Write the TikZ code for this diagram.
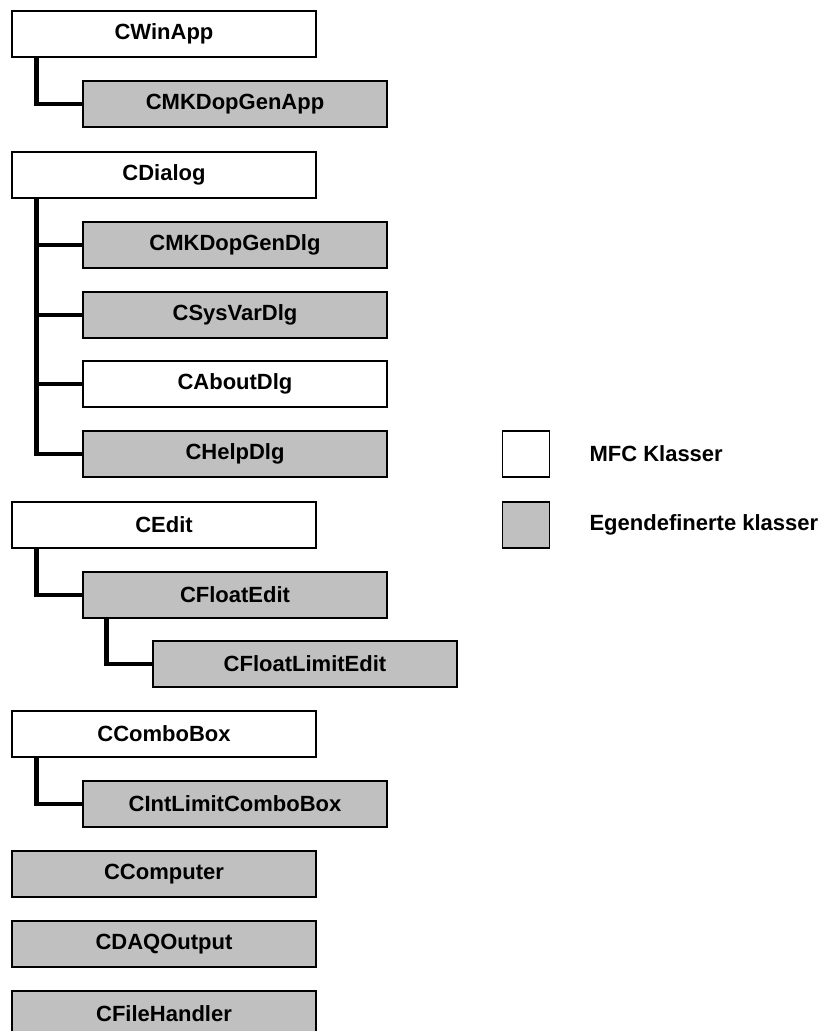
\documentclass[tikz,border=0pt]{standalone}
\usepackage{fontspec}
\setmainfont{Liberation Sans}
\usepackage{tikz}
\usetikzlibrary{positioning}

\definecolor{mfcgray}{RGB}{192,192,192}

\begin{document}
\begin{tikzpicture}[
  x=1pt, y=-1pt,
  cls/.style={draw, line width=1.4pt, minimum width=304pt, minimum height=46pt,
              inner sep=0pt, font=\fontsize{22}{26}\selectfont\bfseries},
  mfc/.style={cls, fill=white},
  own/.style={cls, fill=mfcgray},
  key/.style={draw, line width=1.4pt, minimum width=47pt, minimum height=46pt, inner sep=0pt},
  keytxt/.style={anchor=west, font=\fontsize{22}{26}\selectfont\bfseries},
  link/.style={line width=4.5pt}
]
  \useasboundingbox (0,0) rectangle (837,1031);
  % klassehierarki
  \node[mfc] (winapp)   at (164,34)  {CWinApp};
  \node[own] (genapp)   at (235,104) {CMKDopGenApp};
  \node[mfc] (dialog)   at (164,175) {CDialog};
  \node[own] (gendlg)   at (235,245) {CMKDopGenDlg};
  \node[own] (sysvar)   at (235,315) {CSysVarDlg};
  \node[mfc] (about)    at (235,384) {CAboutDlg};
  \node[own] (help)     at (235,454) {CHelpDlg};
  \node[mfc] (edit)     at (164,525) {CEdit};
  \node[own] (fedit)    at (235,595) {CFloatEdit};
  \node[own] (flimit)   at (305,664) {CFloatLimitEdit};
  \node[mfc] (combo)    at (164,734) {CComboBox};
  \node[own] (icombo)   at (235,804) {CIntLimitComboBox};
  \node[own] (computer) at (164,874) {CComputer};
  \node[own] (daq)      at (164,944) {CDAQOutput};
  \node[own] (file)     at (164,1014) {CFileHandler};
  % arv
  \draw[link] ([xshift=25pt]winapp.south west) |- (genapp.west);
  \foreach \c in {gendlg,sysvar,about,help}
    \draw[link] ([xshift=25pt]dialog.south west) |- (\c.west);
  \draw[link] ([xshift=25pt]edit.south west) |- (fedit.west);
  \draw[link] ([xshift=24pt]fedit.south west) |- (flimit.west);
  \draw[link] ([xshift=25pt]combo.south west) |- (icombo.west);
  % forklaring
  \node[key, fill=white]   (keymfc) at (526,454) {};
  \node[key, fill=mfcgray] (keyown) at (526,525) {};
  \node[keytxt] (txtmfc) at (586,454) {MFC Klasser};
  \node[keytxt] (txtown) at (586,525) {Egendefinerte klasser};
\end{tikzpicture}
\end{document}
